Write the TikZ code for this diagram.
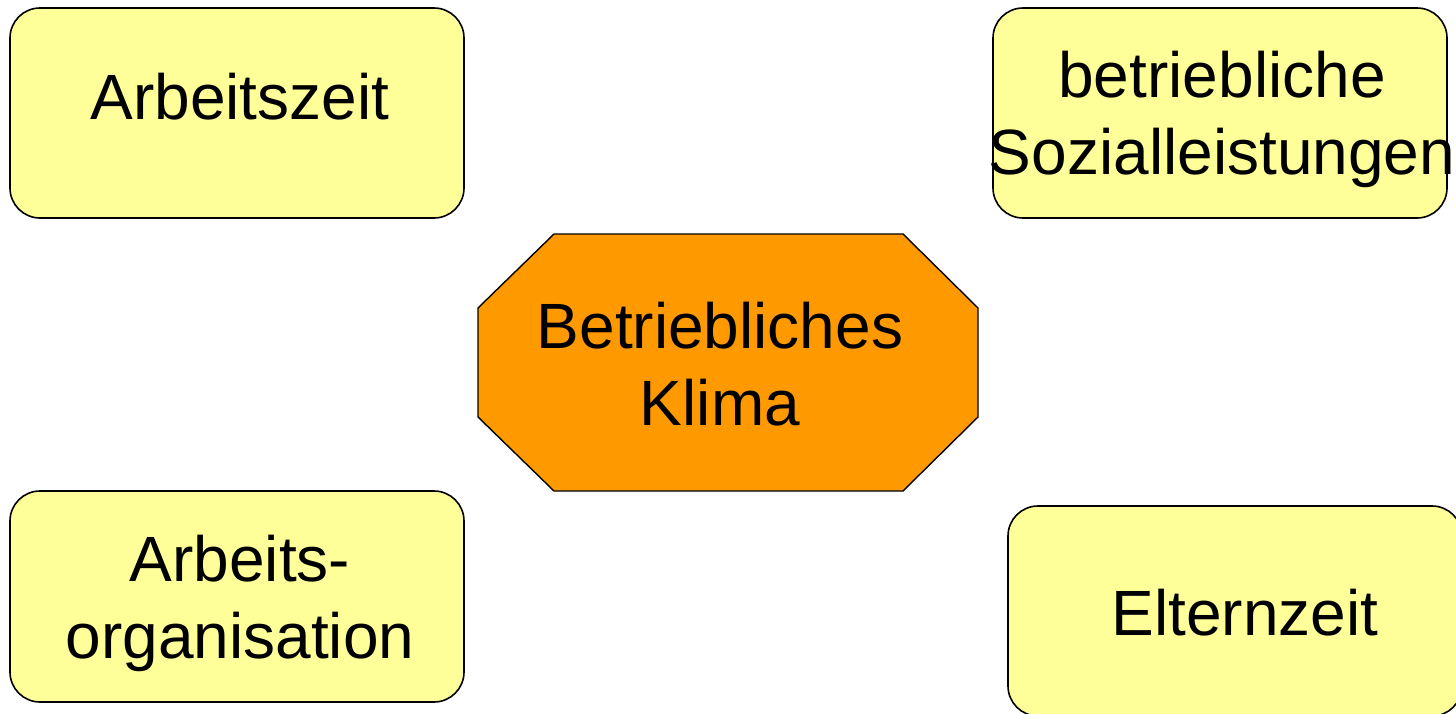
\documentclass[tikz,border=0pt]{standalone}
\usepackage{fontspec}
\setmainfont{Liberation Sans}
\begin{document}
\begin{tikzpicture}[x=1pt,y=-1pt,
  boxst/.style={draw=black,line width=1.6pt,fill=boxyellow,rounded corners=30pt,inner sep=0pt},
  octost/.style={draw=black,line width=1.4pt,fill=octoorange},
  lbl/.style={font=\fontsize{64}{77}\selectfont,align=center,anchor=base,inner sep=0pt,text=black}]
\definecolor{boxyellow}{HTML}{FFFF99}
\definecolor{octoorange}{HTML}{FF9900}
\useasboundingbox (0,0) rectangle (1456,714);
\clip (0,0) rectangle (1456,714);
\fill[white] (0,0) rectangle (1456,714);
% boxes
\draw[boxst] (10,8) rectangle (464,218);
\draw[boxst] (993,8) rectangle (1447,218);
\draw[boxst] (10,491) rectangle (464,702);
\draw[boxst] (1008,506) rectangle (1462,716);
% octagon
\draw[octost] (554,234) -- (903,234) -- (978,308) -- (978,417) -- (903,491) -- (554,491) -- (478,417) -- (478,308) -- cycle;
% labels
\node[lbl] (az) at (240,120) {Arbeitszeit};
\node[lbl] (sl) at (1222,175) {betriebliche\\Sozialleistungen};
\node[lbl] (ao) at (240,658) {Arbeits-\\organisation};
\node[lbl] (ez) at (1245,635) {Elternzeit};
\node[lbl] (bk) at (720,425) {Betriebliches\\Klima};
\end{tikzpicture}
\end{document}
